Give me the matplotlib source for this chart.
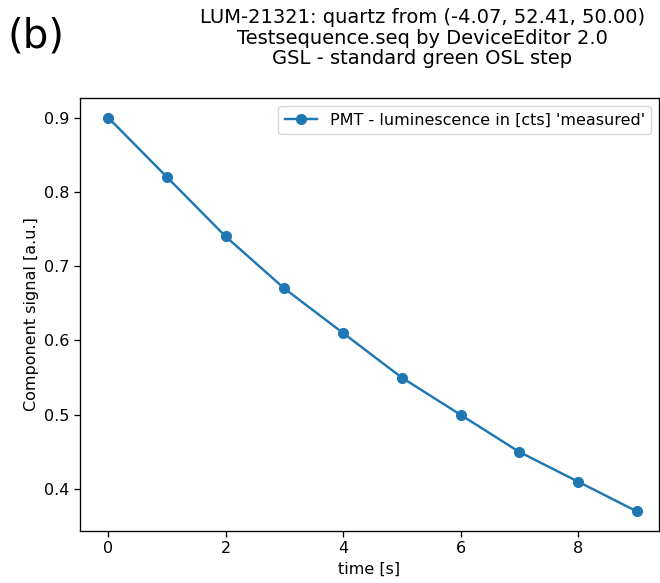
import matplotlib
matplotlib.use('Agg')
import matplotlib.pyplot as plt

# data
time_s = [0, 1, 2, 3, 4, 5, 6, 7, 8, 9]
signal = [0.90, 0.82, 0.74, 0.67, 0.61, 0.55, 0.50, 0.45, 0.41, 0.37]
series_label = "PMT - luminescence in [cts] 'measured'"
title_lines = ["LUM-21321: quartz from (-4.07, 52.41, 50.00)",
               "Testsequence.seq by DeviceEditor 2.0",
               "GSL - standard green OSL step"]

plt.rcParams['font.size'] = 11.5
plt.rcParams['axes.linewidth'] = 0.95
plt.rcParams['xtick.major.width'] = 0.95
plt.rcParams['ytick.major.width'] = 0.95
plt.rcParams['xtick.major.size'] = 4.0
plt.rcParams['ytick.major.size'] = 4.0

fig = plt.figure(figsize=(6.6, 5.83), dpi=100)
ax = fig.add_axes([0.1212, 0.0892, 0.8773, 0.7428])

ax.plot(time_s, signal, marker='o', color='#1f77b4', lw=1.75, ms=7, label=series_label)
ax.set_xlim(-0.48, 9.38)
ax.set_xlabel('time [s]')
ax.set_ylabel('Component signal [a.u.]')
ax.legend(loc='upper right')

fig.text(0.64, 0.987, '\n'.join(title_lines), ha='center', va='top', fontsize=14, linespacing=1.13)
fig.text(0.012, 0.972, '(b)', ha='left', va='top', fontsize=29)

fig.savefig('out.png', dpi=100)
